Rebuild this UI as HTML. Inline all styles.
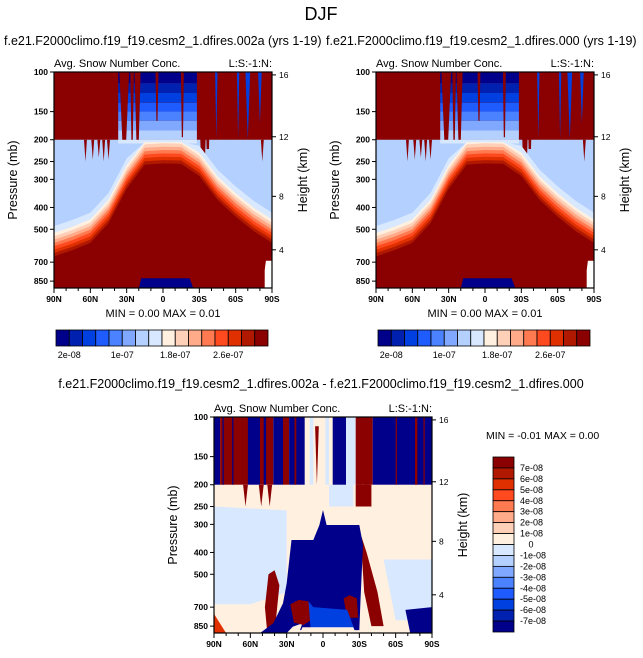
<!DOCTYPE html>
<html><head><meta charset="utf-8"><style>
body{margin:0;background:#fff;}
svg{display:block;font-family:"Liberation Sans",Helvetica,sans-serif;}
</style></head><body>
<svg id="fig" width="643" height="658" viewBox="0 0 643 658" xmlns="http://www.w3.org/2000/svg">
<text x="321" y="20" font-size="18" text-anchor="middle">DJF</text>
<text x="4" y="45" font-size="12.5">f.e21.F2000climo.f19_f19.cesm2_1.dfires.002a (yrs 1-19)</text>
<text x="326" y="45" font-size="12.5">f.e21.F2000climo.f19_f19.cesm2_1.dfires.000 (yrs 1-19)</text>
<text x="321" y="388" font-size="12.5" text-anchor="middle">f.e21.F2000climo.f19_f19.cesm2_1.dfires.002a - f.e21.F2000climo.f19_f19.cesm2_1.dfires.000</text>
<g id="panels"></g>
</svg>
<script>
// ---- data ----
const absColors=["#00008b","#0020b0","#0040e0","#1e5cff","#4a82ff","#80a8ff","#b4d0ff","#d8e8ff","#fff0e0","#ffd0b8","#ffaa88","#ff7a50","#ff4a20","#e03000","#b01800","#8b0000"];
const absLevels=[2e-8,4e-8,6e-8,8e-8,1e-7,1.2e-7,1.4e-7,1.6e-7,1.8e-7,2e-7,2.2e-7,2.4e-7,2.6e-7,2.8e-7,3e-7];
const absLabels=["2e-08","1e-07","1.8e-07","2.6e-07"];
const absLabelIdx=[0,4,8,12];
const diffLevels=["-7e-08","-6e-08","-5e-08","-4e-08","-3e-08","-2e-08","-1e-08","0","1e-08","2e-08","3e-08","4e-08","5e-08","6e-08","7e-08"];
const pTicks=[100,150,200,250,300,400,500,700,850];
const hTicks=[16,12,8,4];
const hTickPres=[103,194,357,617];
const latTicks=[90,60,30,0,-30,-60,-90];
const latLabels=["90N","60N","30N","0","30S","60S","90S"];
const coreLats=[90,75,60,45,30,15,0,-15,-30,-45,-60,-75,-90];
const coreTop=[660,620,575,470,330,258,255,256,290,370,440,510,575];
const spikeLat=[32,25.5,21,5,-16,-33,-37];
const spikeW=[4,1.5,2.5,1.2,1.2,4,2.5];
const spikeBot=[200,200,200,165,195,250,220];
const gapLat=[-44,-62,-70,-80];
const gapW=[1,1,2,1.5];
const gapBot=[200,200,200,170];
const dripLat=[64,58,53,49,45,-82];
const dripBot=[250,245,240,250,245,250];
// diff panel upper column segments (north edge, south edge, colour index)
const segStart=[90,85,62,52,41,33,28,15,-8,-19,-27,-41];
const segEnd=[85,62,52,41,33,28,15,-8,-19,-27,-41,-90];
const segColor=[0,15,0,15,0,15,0,8,0,7,15,0];
const blobLat=[30,26,8,3,0,-3,-30,-33,-31,-30,19,17,25,30,52,41,33];
const blobP=[548,352,352,302,259,302,302,370,651,885,885,826,855,915,915,826,673];
const redLLat=[45,40,36,40,46,48],redLP=[500,480,560,912,912,700];
const redC1Lat=[27,20,12,10,16,24],redC1P=[680,650,660,800,840,820];
const redC2Lat=[-17,-22,-28,-29,-20],redC2P=[640,620,640,780,780];
const redRLat=[-31,-36,-45,-50,-40,-34],redRP=[330,400,600,850,850,600];
const lbLat=[90,30,30,60,90],lbP=[250,260,600,680,680];
const lb2Lat=[-50,-90,-90,-60],lb2P=[430,430,800,800];
const sbLat=[-68,-90,-90,-72],sbP=[720,700,912,912];

const NS="http://www.w3.org/2000/svg";
const root=document.getElementById('panels');
function el(tag,attrs,parent){const e=document.createElementNS(NS,tag);for(const k in attrs)e.setAttribute(k,attrs[k]);(parent||root).appendChild(e);return e;}
function txt(x,y,s,size,anchor,parent,rot){const t=el('text',{x:x,y:y,'font-size':size,'text-anchor':anchor||'start'},parent);if(rot)t.setAttribute('transform','rotate(-90 '+x+' '+y+')');t.textContent=s;return t;}
function makePanel(x0,y0,w,h){
  const sx=lat=>x0+(90-lat)/180*w;
  const sy=p=>y0+Math.log10(p/100)*225;
  return {sx,sy};
}
function poly(ax,lats,ps,fill,g){
  const pts=lats.map((l,i)=>ax.sx(l).toFixed(1)+','+ax.sy(Math.min(ps[i],913)).toFixed(1)).join(' ');
  return el('polygon',{points:pts,fill:fill},g);
}
function box(ax,latN,latS,pTop,pBot,fill,g){
  const x1=ax.sx(latN),x2=ax.sx(latS),y1=ax.sy(pTop),y2=ax.sy(pBot);
  return el('rect',{x:x1.toFixed(1),y:y1.toFixed(1),width:(x2-x1).toFixed(1),height:(y2-y1).toFixed(1),fill:fill},g);
}
function axes(ax,x0,y0,w,h,g,kind){
  const b=el('rect',{x:x0,y:y0,width:w,height:h,fill:'none',stroke:'#000','stroke-width':1.2},g);
  
  pTicks.forEach(p=>{const y=ax.sy(p);el('line',{x1:x0-4,x2:x0,y1:y,y2:y,stroke:'#000'},g);
    const t=txt(x0-6,y+3,String(p),8.5,'end',g);t.setAttribute('font-weight','bold');
    });
  hTicks.forEach((hh,i)=>{const y=ax.sy(hTickPres[i]);el('line',{x1:x0+w,x2:x0+w+4,y1:y,y2:y,stroke:'#000'},g);
    const t=txt(x0+w+7,y+3,String(hh),8.5,'start',g);
    });
  for(let l=90;l>=-90;l-=10){const x=ax.sx(l);el('line',{x1:x,x2:x,y1:y0+h,y2:y0+h+(l%30===0?5:3),stroke:'#000'},g);}
  latTicks.forEach((l,i)=>{const t=txt(ax.sx(l),y0+h+14,latLabels[i],8.5,'middle',g);t.setAttribute('font-weight','bold');
    });
  const yt=txt(x0-37,y0+h/2,'Pressure (mb)',12.5,'middle',g,true);
  
  const ht=txt(x0+w+35,y0+h/2,'Height (km)',12.5,'middle',g,true);
  
  const st=txt(x0,y0-5,'Avg. Snow Number Conc.',11,'start',g);
  
  const lt=txt(x0+w,y0-5,'L:S:-1:N:',11,'end',g);
  
}

function topPanel(ox,name){
  const g=el('g',{});
  
  
  const x0=54+ox,y0=72,w=218,h=216;
  const ax=makePanel(x0,y0,w,h);
  const fg=el('g',{},g);
  el('rect',{x:x0,y:y0,width:w,height:h,fill:absColors[6]},fg);
  el('rect',{x:x0,y:y0,width:w,height:ax.sy(200)-y0,fill:absColors[15]},fg);
  const bands=[100,112,124,137,150,165,182,200,208];
  for(let i=0;i<8;i++){
    box(ax,37,-28,bands[i],bands[i+1],absColors[Math.min(i,7)],fg);
  }
  spikeLat.forEach((l,i)=>poly(ax,[l-spikeW[i],l+spikeW[i],l+spikeW[i]*0.4,l-spikeW[i]*0.4],[100,100,spikeBot[i],spikeBot[i]],absColors[15],fg));
  gapLat.forEach((l,i)=>poly(ax,[l-gapW[i],l+gapW[i],l],[100,100,gapBot[i]],absColors[2],fg));
  dripLat.forEach((l,i)=>poly(ax,[l-1.2,l+1.2,l],[200,200,dripBot[i]],absColors[15],fg));
  for(let k=9;k>=0;k--){
    const f=Math.pow(1.035,k);
    const lats=coreLats.concat([-90,90]);
    const ps=coreTop.map(p=>Math.max(p/f,205)).concat([913,913]);
    poly(ax,lats,ps,absColors[Math.max(7,15-k)],fg);
  }
  poly(ax,[20,18,-22,-25],[913,825,825,913],absColors[0],fg);
  poly(ax,[-85,-90,-90,-84,-84],[690,690,913,913,760],'#ffffff',fg);
  axes(ax,x0,y0,w,h,g,'abs');
  const mm=txt(x0+w/2,y0+h+29,'MIN =   0.00  MAX =   0.01',11,'middle',g);
  
  const cb=el('g',{},g);
  
  
  const cx=56+ox,cw=212,bw=cw/absColors.length;
  absColors.forEach((c,i)=>{const r=el('rect',{x:cx+i*bw,y:330,width:bw,height:16,fill:c,stroke:'#000','stroke-width':0.8},cb);
    });
  absLabelIdx.forEach((idx,i)=>{const t=txt(cx+(idx+1)*bw,358,absLabels[i],9,'middle',cb);
    });
}
topPanel(0,'left-panel');
topPanel(322,'right-panel');

(function(){
  const g=el('g',{});
  
  
  const x0=214,y0=417,w=218,h=216;
  const ax=makePanel(x0,y0,w,h);
  const fg=el('g',{},g);
  el('rect',{x:x0,y:y0,width:w,height:h,fill:absColors[8]},fg);
  poly(ax,lbLat,lbP,absColors[7],fg);
  poly(ax,lb2Lat,lb2P,absColors[7],fg);
  box(ax,-5,-25,200,250,absColors[7],fg);
  segStart.forEach((s,i)=>box(ax,s,segEnd[i],100,200,absColors[segColor[i]],fg));
  [[83,82,0],[75,74,0],[49,47,0],[23.5,22,15],[-76,-78,15],[-83,-84,15],[-60,-61,15],[11,8,7],[-2,-5,7]].forEach(a=>
    box(ax,a[0],a[1],100,200,absColors[a[2]],fg));
  poly(ax,[3.5,6.5,5],[110,110,200],absColors[15],fg);
  [[64,250],[51,250],[44,250],[-36,250],[-30,240]].forEach(a=>poly(ax,[a[0]+2,a[0]-2,a[0]],[200,200,a[1]],absColors[15],fg));
  box(ax,-27,-40,200,250,absColors[15],fg);
  poly(ax,redLLat,redLP,absColors[15],fg);
  poly(ax,redRLat,redRP,absColors[15],fg);
  poly(ax,blobLat,blobP,absColors[0],fg);
  poly(ax,redC1Lat,redC1P,absColors[15],fg);
  poly(ax,redC2Lat,redC2P,absColors[15],fg);
  poly(ax,[12,8,-20,-26,-24,10],[660,700,720,880,913,913],absColors[2],fg);
  poly(ax,[17,-25,-27,19],[860,860,913,913],absColors[8],fg);
  poly(ax,sbLat,sbP,absColors[0],fg);
  poly(ax,[90,80,90],[750,913,913],absColors[13],fg);
  axes(ax,x0,y0,w,h,g,'diff');
  const mm=txt(486,439,'MIN = -0.01  MAX =  0.00',10.5,'start',g);
  
  const cb=el('g',{},g);
  
  
  const cy=457,ch=175,bh=ch/16;
  for(let i=0;i<16;i++){const r=el('rect',{x:493,y:cy+i*bh,width:21,height:bh,fill:absColors[15-i],stroke:'#000','stroke-width':0.8},cb);
    }
  diffLevels.slice().reverse().forEach((s,i)=>{const t=txt(s==='0'?531:520,cy+(i+1)*bh+3,s,9,s==='0'?'middle':'start',cb);
    });
})();
</script>
</body></html>
